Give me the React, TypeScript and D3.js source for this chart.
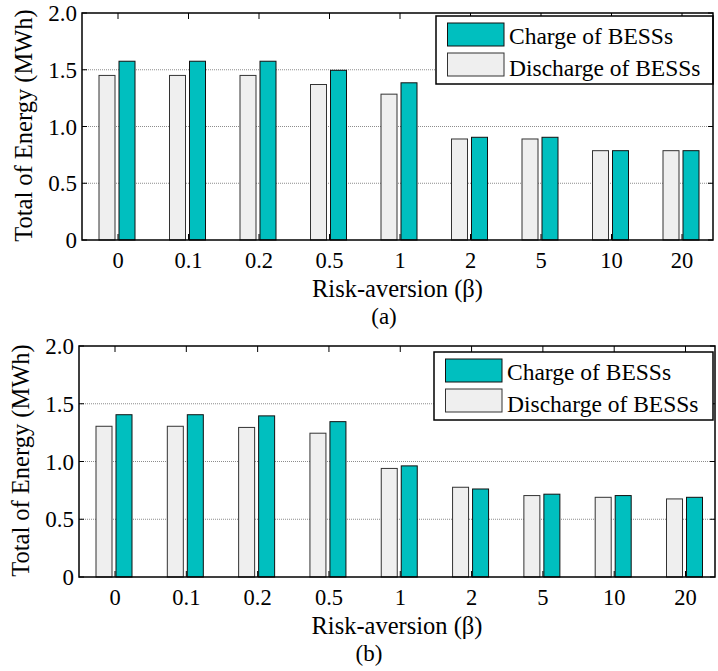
import { scaleLinear, scaleBand } from "d3";

const betas = ["0", "0.1", "0.2", "0.5", "1", "2", "5", "10", "20"];
const yTicks = [0, 0.5, 1, 1.5, 2];
const yTickLabels = ["0", "0.5", "1.0", "1.5", "2.0"];
const series = ["Discharge", "Charge"];

const dischargeA = [1.45, 1.45, 1.45, 1.37, 1.285, 0.89, 0.89, 0.787, 0.787];
const chargeA = [1.575, 1.575, 1.575, 1.495, 1.385, 0.905, 0.905, 0.787, 0.787];

const dischargeB = [1.305, 1.305, 1.295, 1.245, 0.94, 0.777, 0.705, 0.69, 0.676];
const chargeB = [1.405, 1.405, 1.395, 1.345, 0.962, 0.762, 0.717, 0.705, 0.69];

const TEAL = "#00bfbf";
const GREY = "#efefef";
const FONT = "'Liberation Serif', 'Times New Roman', serif";

type Panel = {
  left: number;
  right: number;
  top: number;
  bottom: number;
  firstTick: number;
  lastTick: number;
  discharge: number[];
  charge: number[];
  legend: { x: number; y: number; w: number; h: number };
  caption: string;
  captionX: number;
};

const panels: Panel[] = [
  {
    left: 82,
    right: 713,
    top: 13,
    bottom: 240,
    firstTick: 118,
    lastTick: 682,
    discharge: dischargeA,
    charge: chargeA,
    legend: { x: 436, y: 16, w: 277, h: 68 },
    caption: "(a)",
    captionX: 384,
  },
  {
    left: 79,
    right: 715,
    top: 346,
    bottom: 577,
    firstTick: 115,
    lastTick: 685.5,
    discharge: dischargeB,
    charge: chargeB,
    legend: { x: 434, y: 352, w: 279, h: 68 },
    caption: "(b)",
    captionX: 369,
  },
];

function BarPanel({ p }: { p: Panel }) {
  const x = scaleLinear()
    .domain([0, betas.length - 1])
    .range([p.firstTick, p.lastTick]);
  const y = scaleLinear().domain([0, 2]).range([p.bottom, p.top]);
  const inner = scaleBand()
    .domain(series)
    .range([-19, 17])
    .paddingInner(0.2);
  const midX = (p.left + p.right) / 2;
  const midY = (p.top + p.bottom) / 2;
  const lg = p.legend;

  return (
    <g>
      {/* grid */}
      {yTicks.slice(1, -1).map((t) => (
        <line
          key={t}
          x1={p.left}
          x2={p.right}
          y1={y(t)}
          y2={y(t)}
          stroke="#8c8c8c"
          strokeWidth={1}
          strokeDasharray="1,1"
        />
      ))}

      {/* bars */}
      {betas.map((b, i) => {
        const cx = x(i);
        return (
          <g key={b}>
            <rect
              x={cx + (inner("Discharge") ?? 0)}
              y={y(p.discharge[i])}
              width={inner.bandwidth()}
              height={y(0) - y(p.discharge[i])}
              fill={GREY}
              stroke="#333"
              strokeWidth={1}
            />
            <rect
              x={cx + (inner("Charge") ?? 0)}
              y={y(p.charge[i])}
              width={inner.bandwidth()}
              height={y(0) - y(p.charge[i])}
              fill={TEAL}
              stroke="#111"
              strokeWidth={1}
            />
          </g>
        );
      })}

      {/* category ticks, top and bottom, inward */}
      {betas.map((b, i) => (
        <g key={"t" + b} stroke="#000" strokeWidth={1}>
          <line x1={x(i)} x2={x(i)} y1={p.top} y2={p.top + 6} />
          <line x1={x(i)} x2={x(i)} y1={p.bottom} y2={p.bottom - 6} />
        </g>
      ))}

      {/* value ticks left and right */}
      {yTicks.map((t) => (
        <g key={"v" + t} stroke="#000" strokeWidth={1}>
          <line x1={p.left} x2={p.left + 5} y1={y(t)} y2={y(t)} />
          <line x1={p.right} x2={p.right - 5} y1={y(t)} y2={y(t)} />
        </g>
      ))}

      {/* legend */}
      <g>
        <rect
          x={lg.x}
          y={lg.y}
          width={lg.w}
          height={lg.h}
          fill="#fff"
          stroke="#000"
          strokeWidth={1.5}
        />
        <rect x={lg.x + 11.5} y={lg.y + 7} width={56.5} height={23} fill={TEAL} stroke="#111" strokeWidth={1} />
        <rect x={lg.x + 11.5} y={lg.y + 37} width={56.5} height={23} fill={GREY} stroke="#333" strokeWidth={1} />
        <text x={lg.x + 73} y={lg.y + 27.5} fontSize={23.5} fontFamily={FONT} fill="#000">
          Charge of BESSs
        </text>
        <text x={lg.x + 73} y={lg.y + 59.5} fontSize={23.5} fontFamily={FONT} fill="#000">
          Discharge of BESSs
        </text>
      </g>

      {/* frame */}
      <rect
        x={p.left}
        y={p.top}
        width={p.right - p.left}
        height={p.bottom - p.top}
        fill="none"
        stroke="#000"
        strokeWidth={1.5}
      />

      {/* tick labels */}
      {yTicks.map((t, i) => (
        <text
          key={"yl" + t}
          x={p.left - 5}
          y={y(t)}
          dy="0.35em"
          textAnchor="end"
          fontSize={23}
          fontFamily={FONT}
          fill="#000"
        >
          {yTickLabels[i]}
        </text>
      ))}
      {betas.map((b, i) => (
        <text
          key={"xl" + b}
          x={x(i)}
          y={p.bottom + 27.5}
          textAnchor="middle"
          fontSize={22.5}
          fontFamily={FONT}
          fill="#000"
        >
          {b}
        </text>
      ))}

      {/* axis titles */}
      <text
        x={midX}
        y={p.bottom + 57}
        textAnchor="middle"
        fontSize={24.5}
        fontFamily={FONT}
        fill="#000"
      >
        Risk-aversion (β)
      </text>
      <text
        transform={`translate(${p.left - 50},${midY - 1}) rotate(-90)`}
        textAnchor="middle"
        fontSize={24.5}
        fontFamily={FONT}
        fill="#000"
      >
        Total of Energy (MWh)
      </text>
      <text
        x={p.captionX}
        y={p.bottom + 84}
        textAnchor="middle"
        fontSize={23}
        fontFamily={FONT}
        fill="#000"
      >
        {p.caption}
      </text>
    </g>
  );
}

export default function App() {
  return (
    <svg
      width={718}
      height={671}
      style={{ position: "absolute", left: 0, top: 0, background: "#fff" }}
    >
      {panels.map((p) => (
        <BarPanel key={p.caption} p={p} />
      ))}
    </svg>
  );
}
